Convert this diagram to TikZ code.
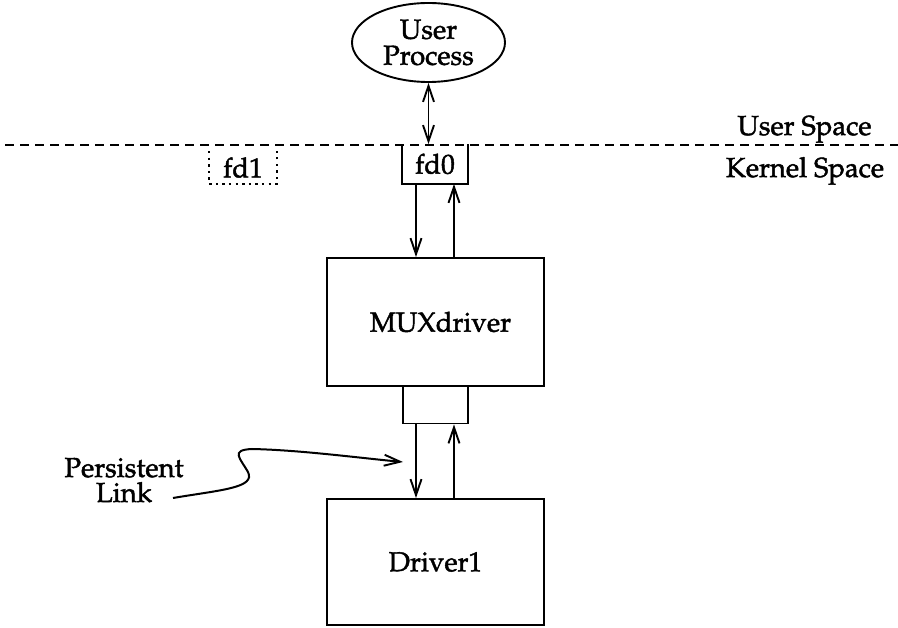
\documentclass[tikz,border=0pt]{standalone}
\usepackage[T1]{fontenc}
\usepackage{mathpazo}
\usetikzlibrary{arrows.meta,shapes.geometric,calc}
\newcommand\hv[1]{\special{pdf:code 2 Tr 0.45 w}#1\special{pdf:code 0 Tr}}
\begin{document}
\begin{tikzpicture}[x=1pt,y=-1pt,
  line width=1.9pt,
  every node/.style={font=\fontsize{27.5}{26}\selectfont, inner sep=0pt},
  barb/.tip={Straight Barb[length=16pt,width=11pt,line width=1.9pt]},
  tip/.style={-barb},
  dtip/.style={barb-barb},
  blk/.style={draw, minimum width=217pt},
  port/.style={minimum width=64pt, minimum height=38pt},
  lbl/.style={align=center}
]
\useasboundingbox (0,0) rectangle (898,628);
% user process
\node[draw, ellipse, minimum width=153pt, minimum height=79pt, lbl,
      font=\fontsize{27.5}{26}\selectfont] (up) at (428.5,42.5) {\hv{User}\\\hv{Process}};
% fd0 and fd1
\node[port] (fd0) at (435,164) {\hv{fd0}};
\draw (fd0.north west) -- (fd0.south west) -- (fd0.south east) -- (fd0.north east);
\node[port, minimum width=66pt, minimum height=31pt] (fd1) at (243,167.5) {\hv{fd1}};
\draw[line width=2.4pt, dash pattern=on 2.4pt off 4.2pt] (fd1.north west) -- (fd1.south west) -- (fd1.south east) -- (fd1.north east);
% separator line
\coordinate (ls) at (5,145);
\coordinate (le) at (898,145);
\draw[dash pattern=on 9pt off 6pt] (ls) -- (le);
\node[anchor=base] (us) at (804.5,135) {\hv{User Space}};
\node[anchor=base] (ks) at (805,177) {\hv{Kernel Space}};
% blocks
\node[blk, minimum height=128pt] (mux) at (435.5,322) {\hspace*{10pt}\hv{MUXdriver}};
\node[draw, port, minimum width=65pt] (lnk) at (435.5,404.5) {};
\node[blk, minimum height=126pt] (drv) at (435.5,562) {\hv{Driver1}};
% connectors
\draw[dtip] (up.south) -- (up.south |- fd0.north);
\draw[tip] ([xshift=-19pt]fd0.south) -- ([xshift=-19pt]fd0.south |- mux.north);
\draw[tip] ([xshift=19pt]fd0.south |- mux.north) -- ([xshift=19pt]fd0.south);
\draw[tip] ([xshift=-19.5pt]lnk.south) -- ([xshift=-19.5pt]lnk.south |- drv.north);
\draw[tip] ([xshift=18.5pt]lnk.south |- drv.north) -- ([xshift=18.5pt]lnk.south);
% persistent link annotation
\node[lbl, font=\fontsize{27.5}{25}\selectfont] (pl) at (124,480) {\hv{Persistent}\\\hv{Link}};
\coordinate (ps) at (173,498);
\coordinate (pe) at (403,462);
\draw[tip, line width=2pt] (ps) .. controls (220,490) and (256,488) .. (248,472)
   .. controls (240,458) and (230,450) .. (252,449)
   .. controls (300,450) and (360,458) .. (pe);
\end{tikzpicture}
\end{document}
